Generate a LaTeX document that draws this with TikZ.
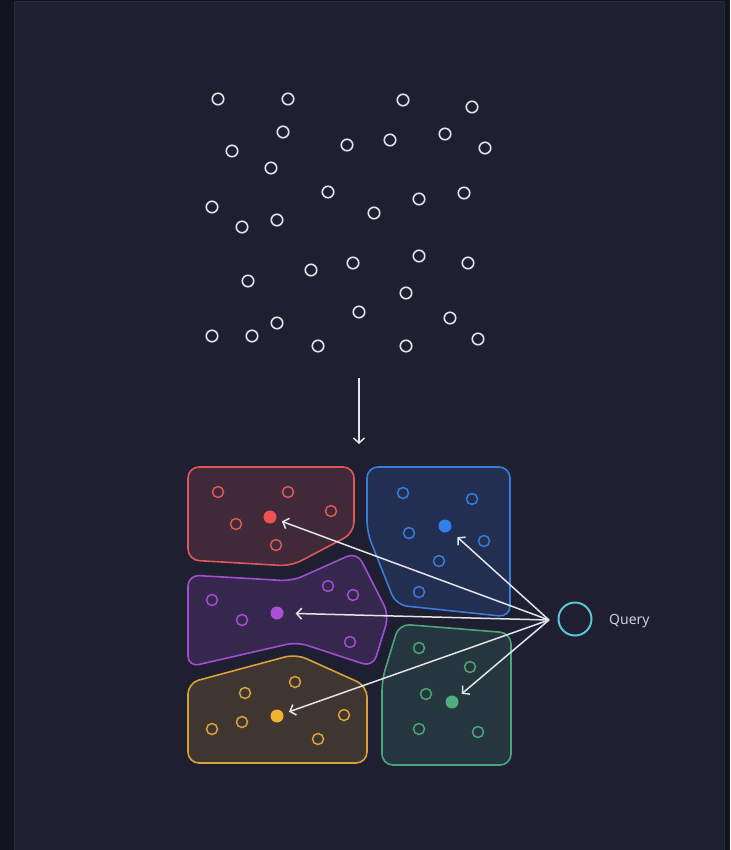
\documentclass[tikz,border=0pt]{standalone}
\usepackage{fontspec}
\newfontfamily\uifont{Noto Sans}
\usetikzlibrary{arrows.meta}
\definecolor{outerbg}{RGB}{17,19,31}
\definecolor{panelbg}{RGB}{30,31,49}
\definecolor{panelline}{RGB}{40,42,58}
\definecolor{dotwhite}{RGB}{226,226,232}
\definecolor{arrwhite}{RGB}{228,228,234}
\definecolor{cred}{RGB}{222,88,88}
\definecolor{cblue}{RGB}{56,124,222}
\definecolor{cpurple}{RGB}{162,78,208}
\definecolor{cyellow}{RGB}{216,162,56}
\definecolor{cgreen}{RGB}{76,164,122}
\definecolor{dred}{RGB}{240,82,82}
\definecolor{dblue}{RGB}{47,128,237}
\definecolor{dpurple}{RGB}{168,80,214}
\definecolor{dyellow}{RGB}{240,178,50}
\definecolor{dgreen}{RGB}{76,175,125}
\definecolor{qcyan}{RGB}{92,196,212}
\definecolor{qtext}{RGB}{206,207,218}
\tikzset{
  sdot/.style={circle,draw=dotwhite,line width=1.6pt,minimum size=11.5pt,inner sep=0pt},
  cdot/.style={circle,draw=#1,line width=1.5pt,minimum size=11pt,inner sep=0pt},
  cent/.style={circle,fill=#1,minimum size=13pt,inner sep=0pt},
  region/.style={draw=#1,line width=1.6pt,fill=#1,fill opacity=0.18,rounded corners=11pt,line join=round},
  link/.style={draw=arrwhite,line width=1.5pt,-{Straight Barb[length=5pt,width=11pt,line width=1.5pt]}},
}
\begin{document}
\begin{tikzpicture}[x=1pt,y=-1pt]
\useasboundingbox (0,0) rectangle (730,850);
\fill[outerbg] (0,0) rectangle (730,850);
\fill[panelbg] (14,1.5) rectangle (725,850);
\draw[panelline,line width=0.8pt] (14.4,1.9) -- (724.6,1.9) -- (724.6,850);
\draw[panelline,line width=0.8pt] (14.4,1.9) -- (14.4,850);

% scattered points
\foreach \x/\y [count=\i] in {218/99,288/99,403/100,472/107,283/132,232/151,347/145,390/140,445/134,485/148,271/168,328/192,419/199,464/193,212/207,374/213,242/227,277/220,248/281,311/270,353/263,419/256,468/263,406/293,277/323,359/312,450/318,212/336,252/336,318/346,406/346,478/339}
  \node[sdot] (s\i) at (\x,\y) {};

% down arrow
\coordinate (atop) at (359,378);
\coordinate (abot) at (359,444);
\draw[link] (atop) -- (abot);

% regions
\path[region=cred] (188,467) -- (354,467) -- (354,533) -- (291,566) -- (188,560) -- cycle;
\path[region=cblue] (367,467) -- (510,467) -- (510,617) -- (396,605) -- (367,532) -- cycle;
\path[region=cpurple] (188,575) -- (292,581) -- (357,552) -- (389,615) -- (373,667) -- (297,642) -- (188,667) -- cycle;
\path[region=cyellow] (188,683) -- (296,654) -- (367,686) -- (367,763) -- (188,763) -- cycle;
\path[region=cgreen] (399,624) -- (511,633) -- (511,765) -- (382,765) -- (382,680) -- cycle;

% red cluster
\node[cdot=cred] (r1) at (218,492) {};
\node[cdot=cred] (r2) at (288,492) {};
\node[cdot=cred] (r3) at (331,511) {};
\node[cdot=cred] (r4) at (236,524) {};
\node[cdot=cred] (r5) at (276,545) {};
\node[cent=dred] (rc) at (270,517) {};
% blue cluster
\node[cdot=cblue] (b1) at (403,493) {};
\node[cdot=cblue] (b2) at (472,499) {};
\node[cdot=cblue] (b3) at (409,533) {};
\node[cdot=cblue] (b4) at (484,541) {};
\node[cdot=cblue] (b5) at (439,561) {};
\node[cdot=cblue] (b6) at (419,592) {};
\node[cent=dblue] (bc) at (445,526) {};
% purple cluster
\node[cdot=cpurple] (p1) at (212,600) {};
\node[cdot=cpurple] (p2) at (242,620) {};
\node[cdot=cpurple] (p3) at (328,586) {};
\node[cdot=cpurple] (p4) at (353,595) {};
\node[cdot=cpurple] (p5) at (350,642) {};
\node[cent=dpurple] (pc) at (277,613) {};
% yellow cluster
\node[cdot=cyellow] (y1) at (245,693) {};
\node[cdot=cyellow] (y2) at (295,682) {};
\node[cdot=cyellow] (y3) at (242,722) {};
\node[cdot=cyellow] (y4) at (212,729) {};
\node[cdot=cyellow] (y5) at (344,715) {};
\node[cdot=cyellow] (y6) at (318,739) {};
\node[cent=dyellow] (yc) at (277,716) {};
% green cluster
\node[cdot=cgreen] (g1) at (419,648) {};
\node[cdot=cgreen] (g2) at (470,667) {};
\node[cdot=cgreen] (g3) at (426,694) {};
\node[cdot=cgreen] (g4) at (419,729) {};
\node[cdot=cgreen] (g5) at (478,732) {};
\node[cent=dgreen] (gc) at (452,702) {};

% query
\node[circle,draw=qcyan,line width=2pt,minimum size=33pt,inner sep=0pt] (q) at (575,619) {};
\node[anchor=west,text=qtext,font=\uifont\fontsize{14}{16}\selectfont,inner sep=0pt] (ql) at (609,621) {Query};
\coordinate (src) at (549,620);

\draw[link,shorten >=6pt] (src) -- (rc);
\draw[link,shorten >=10pt] (src) -- (bc);
\draw[link,shorten >=12pt] (src) -- (pc);
\draw[link,shorten >=6pt] (src) -- (yc);
\draw[link,shorten >=6pt] (src) -- (gc);
\end{tikzpicture}
\end{document}
